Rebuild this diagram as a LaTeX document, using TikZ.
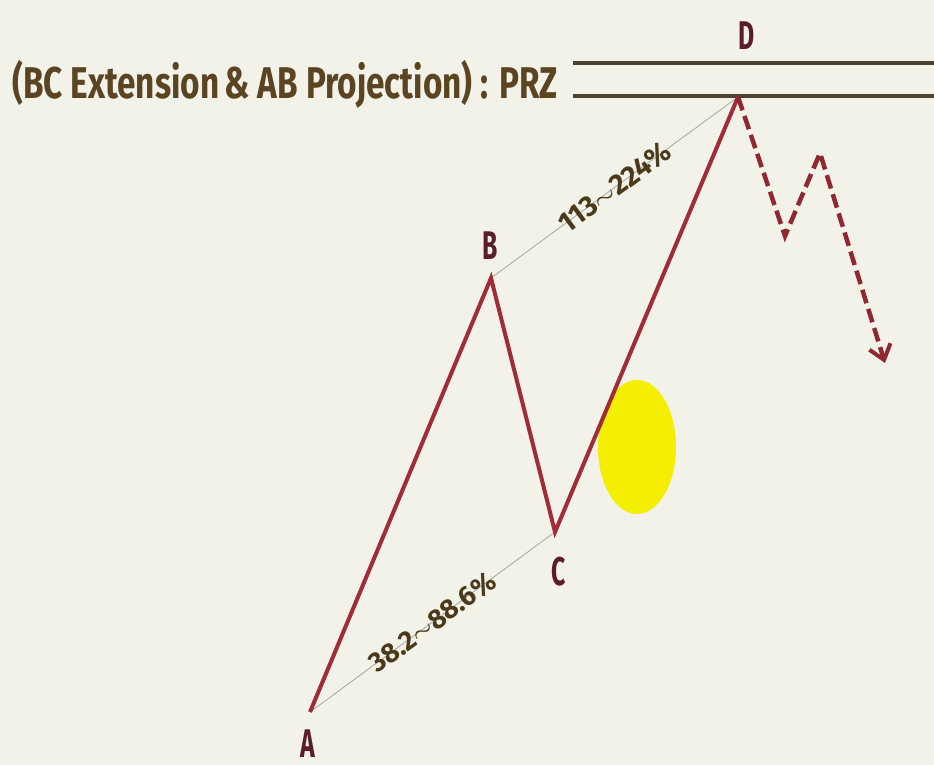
\documentclass[tikz,border=0pt]{standalone}
\usepackage{fontspec}
\setmainfont{Fira Sans}
\usepackage{graphicx}
\usetikzlibrary{arrows.meta,calc}
\definecolor{bg}{HTML}{F3F2E9}
\definecolor{wavecol}{HTML}{A02C38}
\definecolor{labcol}{HTML}{5A1E28}
\definecolor{pctcol}{HTML}{4A3A1A}
\definecolor{titlecol}{HTML}{5A4422}
\definecolor{przcol}{HTML}{4A4232}
\definecolor{dotcol}{HTML}{F4EE00}
\tikzset{
  wave/.style={draw=wavecol, line width=4pt, line join=miter},
  dashwave/.style={draw=wavecol!90!black, line width=4.5pt, line join=miter, dash pattern=on 14pt off 6pt},
  thinline/.style={draw=gray!70, line width=0.8pt},
  przline/.style={draw=przcol, line width=3.2pt},
  lab/.style={text=labcol, inner sep=0pt, font=\fontsize{40}{40}\selectfont\bfseries},
  pct/.style={text=pctcol, inner sep=0pt, font=\bfseries},
}
\begin{document}
\begin{tikzpicture}[x=1pt,y=-1pt]
\fill[bg] (0,0) rectangle (934,765);
\useasboundingbox (0,0) rectangle (934,765);
\coordinate (A) at (310,712);
\coordinate (B) at (491,278);
\coordinate (C) at (555,532);
\coordinate (D) at (738,97);
\coordinate (E) at (785,236);
\coordinate (F) at (820,153);
\coordinate (G) at (885,363);
\coordinate (L1a) at (573,63);
\coordinate (L1b) at (934,63);
\coordinate (L2a) at (573,96);
\coordinate (L2b) at (934,96);
% yellow spot
\fill[dotcol] (637,447) ellipse [x radius=39, y radius=67];
% thin measuring lines
\draw[thinline] (A) -- (C);
\draw[thinline] (B) -- (D);
% PRZ lines
\draw[przline] (L1a) -- (L1b);
\draw[przline] (L2a) -- (L2b);
% pattern
\draw[wave] (A) -- (B) -- (C) -- (D);
\draw[dashwave, -{Straight Barb[length=14pt,width=22pt,line width=4pt]}] (D) -- (E) -- (F) -- (G);
% labels
\node[lab] (la) at (308,744) {\scalebox{0.62}[1]{A}};
\node[lab] (lb) at (490,246) {\scalebox{0.62}[1]{B}};
\node[lab] (lc) at (559,572) {\scalebox{0.62}[1]{C}};
\node[lab] (ld) at (747,36) {\scalebox{0.62}[1]{D}};
\node[pct, rotate=36.3] (p1) at ($(A)!0.5!(C)$) {\resizebox{150pt}{!}{38.2$\sim$88.6\%}};
\node[pct, rotate=36.3] (p2) at ($(B)!0.5!(D)$) {\resizebox{132pt}{!}{113$\sim$224\%}};
% title
\node[anchor=west, inner sep=0pt, text=titlecol] (title) at (12,84)
  {\resizebox*{545pt}{48pt}{\fontseries{sb}\selectfont (BC Extension\,\& AB Projection) : \bfseries PRZ}};
\end{tikzpicture}
\end{document}
